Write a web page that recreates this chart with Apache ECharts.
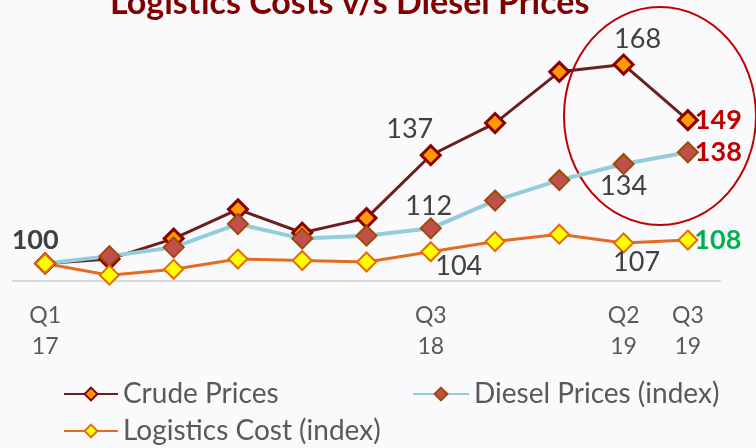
<!DOCTYPE html>
<html>
<head>
<meta charset="utf-8">
<script src="https://cdn.jsdelivr.net/npm/echarts@6/dist/echarts.min.js"></script>
<style>
  html, body { margin: 0; padding: 0; background: #fafafc; }
  #main { width: 756px; height: 448px; }
</style>
</head>
<body>
<div id="main"></div>
<script>
// quarters Q1 17 .. Q3 19
var categories = ['Q1\n17', 'Q2\n17', 'Q3\n17', 'Q4\n17', 'Q1\n18', 'Q2\n18', 'Q3\n18', 'Q4\n18', 'Q1\n19', 'Q2\n19', 'Q3\n19'];
var shownTicks = [0, 6, 9, 10];
var crude = [100, 101.5, 108.5, 118.5, 110.5, 115.5, 137, 148, 165.5, 168, 149];
var diesel = [100, 102.5, 105.5, 113.5, 108.5, 109.5, 112, 121.5, 128.5, 134, 138];
var logistics = [100, 96, 98, 101.5, 101, 100.5, 104, 107.5, 110, 107, 108];

var FONT = 'Lato';
var plain = { fontSize: 27, color: '#404040', fontFamily: FONT };

function withLabels(values, labels) {
  return values.map(function (v, i) {
    if (!labels[i]) return v;
    return { value: v, label: Object.assign({ show: true, formatter: function (p) { return Math.round(p.value); } }, plain, labels[i]) };
  });
}

var crudeLabels = {
  0: { position: 'top', offset: [-10, 6], fontWeight: 'bold' },
  6: { position: 'top', offset: [-21, 4] },
  9: { position: 'top', offset: [14, 4] },
  10: { position: 'right', distance: 0, offset: [-4, 0], fontWeight: 'bold', color: '#c00000' }
};
var dieselLabels = {
  6: { position: 'top', offset: [-2, 7] },
  9: { position: 'bottom', offset: [0, -7] },
  10: { position: 'right', distance: 0, offset: [-4, 0], fontWeight: 'bold', color: '#c00000' }
};
var logisticsLabels = {
  6: { position: 'bottom', offset: [28, -14] },
  9: { position: 'bottom', offset: [13, -10] },
  10: { position: 'right', distance: 0, offset: [-4, 0], fontWeight: 'bold', color: '#00b050' }
};

var legendText = { fontSize: 28, color: '#595959', fontFamily: FONT };

var myChart = echarts.init(document.getElementById('main'));
var option = {
  backgroundColor: '#fafafc',
  animation: false,
  title: {
    text: 'Logistics Costs v/s Diesel Prices',
    left: 105,
    top: -19,
    textStyle: { fontSize: 34, fontWeight: 'bold', color: '#800000', fontFamily: FONT }
  },
  legend: [
    { data: ['Crude Prices'], left: 63, top: 380, padding: 0, itemWidth: 54, itemHeight: 16, textStyle: legendText },
    { data: ['Diesel Prices (index)'], left: 412, top: 380, padding: 0, itemWidth: 56, itemHeight: 16, textStyle: legendText },
    { data: ['Logistics Cost (index)'], left: 63, top: 417, padding: 0, itemWidth: 54, itemHeight: 16, textStyle: legendText }
  ],
  grid: { left: 13, right: 36, top: 47, bottom: 167 },
  xAxis: {
    type: 'category',
    data: categories,
    axisLine: { lineStyle: { color: '#d9d9d9', width: 2 } },
    axisTick: { interval: 0, length: 8, lineStyle: { color: '#d9d9d9', width: 2 } },
    axisLabel: {
      interval: function (i) { return shownTicks.indexOf(i) >= 0; },
      color: '#595959', fontSize: 23, lineHeight: 31, margin: 19, fontFamily: FONT
    }
  },
  yAxis: { type: 'value', min: 94, max: 174, show: false, splitLine: { show: false } },
  graphic: [{
    type: 'ellipse',
    shape: { cx: 660, cy: 116, rx: 96, ry: 109 },
    style: { fill: 'none', stroke: '#c00000', lineWidth: 2 }
  }],
  series: [{
    name: 'Crude Prices',
    type: 'line',
    data: withLabels(crude, crudeLabels),
    symbol: 'diamond',
    symbolSize: 19,
    lineStyle: { color: '#6b1f1f', width: 3 },
    itemStyle: { color: '#ff9a00', borderColor: '#8b0000', borderWidth: 3 }
  }, {
    name: 'Diesel Prices (index)',
    type: 'line',
    data: withLabels(diesel, dieselLabels),
    symbol: 'diamond',
    symbolSize: 20,
    lineStyle: { color: '#92cddc', width: 4 },
    itemStyle: { color: '#c0504d', borderColor: '#9c4a06', borderWidth: 2 }
  }, {
    name: 'Logistics Cost (index)',
    type: 'line',
    data: withLabels(logistics, logisticsLabels),
    symbol: 'diamond',
    symbolSize: 19,
    lineStyle: { color: '#e46c22', width: 3 },
    itemStyle: { color: '#ffff00', borderColor: '#e46c0a', borderWidth: 2 }
  }]
};
myChart.setOption(option);
</script>
</body>
</html>
